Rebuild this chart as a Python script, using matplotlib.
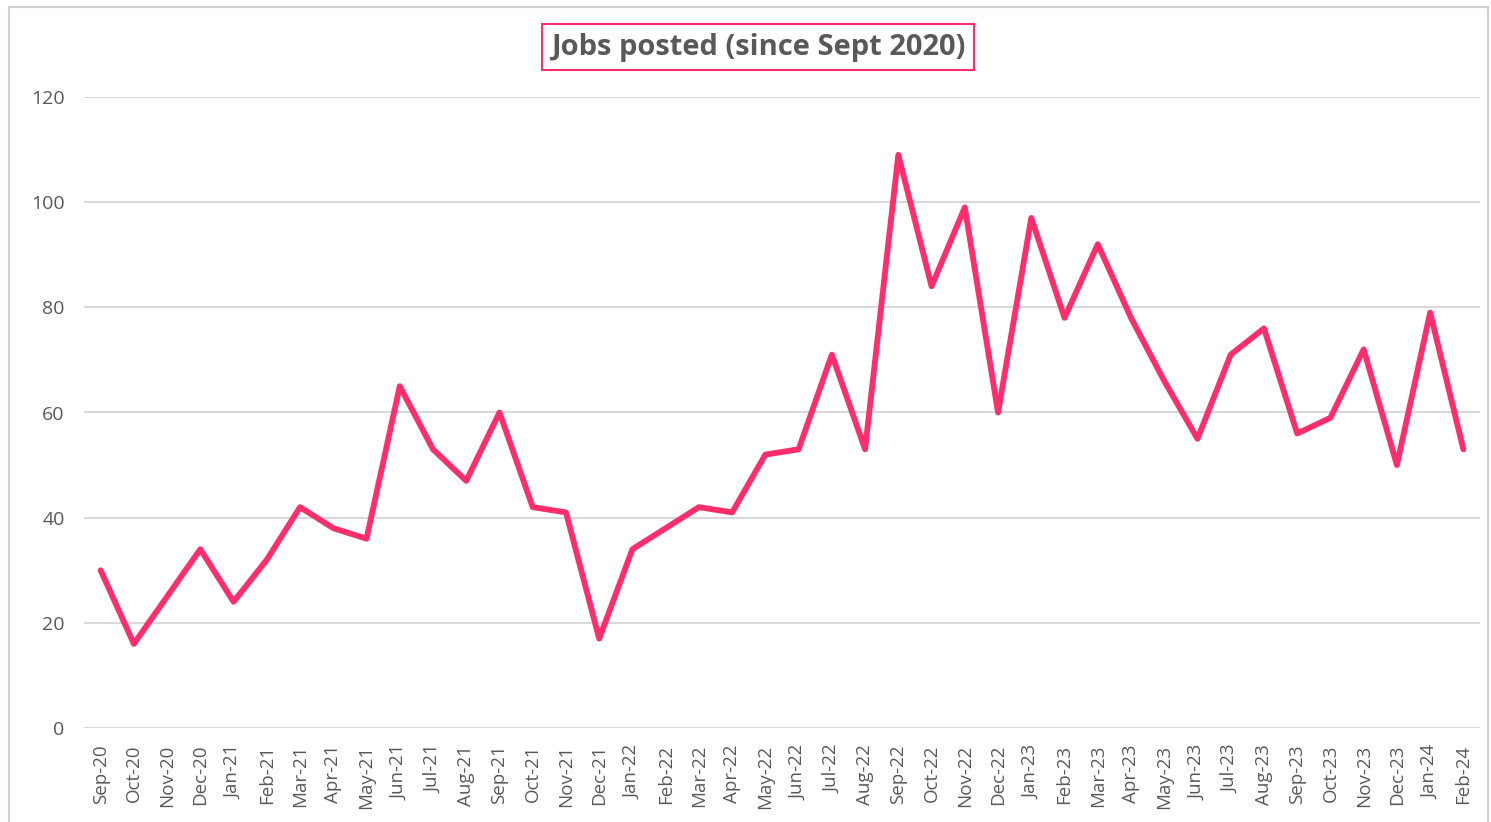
import matplotlib
matplotlib.use("Agg")
import matplotlib.pyplot as plt
from matplotlib.patches import Rectangle

months = ["Sep-20", "Oct-20", "Nov-20", "Dec-20", "Jan-21", "Feb-21", "Mar-21", "Apr-21",
          "May-21", "Jun-21", "Jul-21", "Aug-21", "Sep-21", "Oct-21", "Nov-21", "Dec-21",
          "Jan-22", "Feb-22", "Mar-22", "Apr-22", "May-22", "Jun-22", "Jul-22", "Aug-22",
          "Sep-22", "Oct-22", "Nov-22", "Dec-22", "Jan-23", "Feb-23", "Mar-23", "Apr-23",
          "May-23", "Jun-23", "Jul-23", "Aug-23", "Sep-23", "Oct-23", "Nov-23", "Dec-23",
          "Jan-24", "Feb-24"]
jobs = [30, 16, 25, 34, 24, 32, 42, 38, 36, 65, 53, 47, 60, 42, 41, 17,
        34, 38, 42, 41, 52, 53, 71, 53, 109, 84, 99, 60, 97, 78, 92, 78,
        66, 55, 71, 76, 56, 59, 72, 50, 79, 53]
yticks = [0, 20, 40, 60, 80, 100, 120]
title = "Jobs posted (since Sept 2020)"

plt.rcParams['font.family'] = ['Open Sans', 'DejaVu Sans']
W, H = 1491, 822
fig = plt.figure(figsize=(W / 100, H / 100), dpi=100)
fig.patch.set_facecolor("white")

# outer frame
fig.patches.append(Rectangle((9 / W, -0.01), (1488 - 9) / W, 1.01 - 7 / H,
                             transform=fig.transFigure, fill=False,
                             edgecolor="#D0D0D0", linewidth=1.5))

ax = fig.add_axes([84 / W, 1 - 728 / H, (1480 - 84) / W, (728 - 97) / H])
x = list(range(len(months)))
ax.plot(x, jobs, color="#FF2D6B", linewidth=4.2, solid_joinstyle="round", solid_capstyle="round")
ax.set_xlim(-0.5, len(months) - 0.5)
ax.set_ylim(0, 120)
ax.set_yticks(yticks)
ax.set_xticks(x)
ax.set_xticklabels(months, rotation=90, fontsize=13.5, color="#595959")
ax.tick_params(axis="y", labelsize=14, colors="#595959", length=0, pad=14)
ax.tick_params(axis="x", length=0, pad=12)
ax.grid(axis="y", color="#D9D9D9", linewidth=1.5)
ax.set_axisbelow(True)
for s in ax.spines.values():
    s.set_visible(False)

fig.text(758 / W, 1 - 47 / H, title, ha="center", va="center", fontsize=21,
         fontweight="bold", color="#595959",
         bbox=dict(boxstyle="square,pad=0.3", facecolor="white", edgecolor="#FF2D6B", linewidth=1.5))

fig.savefig("out.png", dpi=100)
